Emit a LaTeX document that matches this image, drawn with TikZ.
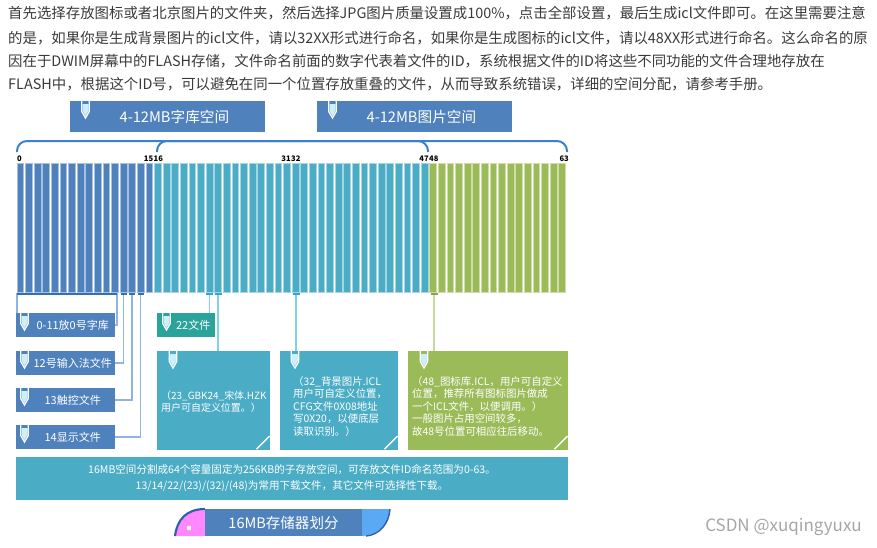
\documentclass[tikz,border=0pt]{standalone}
\usepackage{fontspec}
\setmainfont{Noto Sans CJK SC}
\usepackage{xcolor}
\usepackage{tikz}
\usetikzlibrary{positioning}

\definecolor{fontblue}{HTML}{4F81BD}
\definecolor{picteal}{HTML}{4BACC6}
\definecolor{icongreen}{HTML}{9BBB59}
\definecolor{filegreen}{HTML}{2AA39A}
\definecolor{bracketblue}{HTML}{3A7FD0}
\definecolor{tabpink}{HTML}{FF88FF}
\definecolor{tabsky}{HTML}{5AA9F5}
\definecolor{tabdark}{HTML}{2F5FA8}
\definecolor{bodygray}{HTML}{3A3A3A}
\definecolor{markblue}{HTML}{2F6EBA}
\definecolor{linkblue}{HTML}{8EB4E3}
\definecolor{markteal}{HTML}{31A8C8}
\definecolor{linkteal}{HTML}{7FD3E8}
\definecolor{markgreen}{HTML}{86A646}
\definecolor{linkgreen}{HTML}{C5D9A0}

\tikzset{
  vicon/.pic={
    \fill[cyan!20!white] (-3,3) -- (-3,10) -- (0,15) -- (3,10) -- (3,3) -- cycle;
    \draw[white, line width=1.1pt, line join=miter] (-3.8,0) -- (-3.8,10.5) -- (0,17) -- (3.8,10.5) -- (3.8,0);
  }
}

\begin{document}
\begin{tikzpicture}[x=0.03cm, y=-0.03cm,
  bodytext/.style={anchor=west, inner sep=0pt, text=bodygray, font=\fontsize{12.3}{14}\selectfont},
  hdrbox/.style={fill=fontblue, text=white, anchor=north west, inner sep=0pt,
    minimum width=5.85cm, minimum height=0.93cm, font=\fontsize{12.5}{14}\selectfont,
    execute at begin node=\hspace{0.4cm}},
  lblbox/.style={fill=fontblue, text=white, anchor=north west, inner sep=0pt,
    minimum width=2.97cm, minimum height=0.71cm, font=\fontsize{9.4}{11}\selectfont,
    execute at begin node=\hspace{0.42cm}},
  bigbox/.style={anchor=north west, inner sep=0pt, minimum height=2.96cm},
  boxtext/.style={anchor=north west, inner sep=0pt, align=left, text=white,
    font=\fontsize{8.9}{10.7}\selectfont},
  scalenum/.style={inner sep=0pt, font=\fontsize{6.5}{7}\selectfont\bfseries},
  bracket/.style={bracketblue, line width=1.7pt, rounded corners=0.3cm},
]
\useasboundingbox (0,0) rectangle (877,547);

% ---------------- paragraph ----------------
\node[bodytext] (line1) at (8,13) {首先选择存放图标或者北京图片的文件夹，然后选择JPG图片质量设置成100\%，点击全部设置，最后生成icl文件即可。在这里需要注意};
\node[bodytext] (line2) at (8,38) {的是，如果你是生成背景图片的icl文件，请以32XX形式进行命名，如果你是生成图标的icl文件，请以48XX形式进行命名。这么命名的原};
\node[bodytext] (line3) at (8,61) {因在于DWIM屏幕中的FLASH存储，文件命名前面的数字代表着文件的ID，系统根据文件的ID将这些不同功能的文件合理地存放在};
\node[bodytext] (line4) at (8,84) {FLASH中，根据这个ID号，可以避免在同一个位置存放重叠的文件，从而导致系统错误，详细的空间分配，请参考手册。};

% ---------------- headers ----------------
\node[hdrbox] (hdrfont) at (70,101) {4-12MB字库空间};
\node[hdrbox] (hdrpic) at (317,101) {4-12MB图片空间};
\pic at (85.5,101) {vicon};
\pic at (332.5,101) {vicon};

\draw[bracket] (17,152) -- (17,141) -- (428,141) -- (428,152);
\draw[bracket] (157,152) -- (157,141) -- (567,141) -- (567,152);

% ---------------- 64 blocks ----------------
\foreach \i in {0,...,15}{
  \draw[fill=fontblue, draw=fontblue!50!white, line width=0.5pt] (16.8+8.6*\i,163) rectangle (23.6+8.6*\i,292);
}
\foreach \i in {16,...,47}{
  \draw[fill=picteal, draw=picteal!50!white, line width=0.5pt] (16.8+8.6*\i,163) rectangle (23.6+8.6*\i,292);
}
\foreach \i in {48,...,63}{
  \draw[fill=icongreen, draw=icongreen!50!white, line width=0.5pt] (16.8+8.6*\i,163) rectangle (23.6+8.6*\i,292);
}

\node[scalenum, anchor=south west] (n0) at (17,162) {0};
\node[scalenum, anchor=south east] (n15) at (153.5,162) {15};
\node[scalenum, anchor=south west] (n16) at (153.5,162) {16};
\node[scalenum, anchor=south east] (n31) at (291,162) {31};
\node[scalenum, anchor=south west] (n32) at (291,162) {32};
\node[scalenum, anchor=south east] (n47) at (429,162) {47};
\node[scalenum, anchor=south west] (n48) at (429,162) {48};
\node[scalenum, anchor=south east] (n63) at (569,162) {63};

% ---------------- tick points ----------------
\coordinate (t0) at (17,294);
\coordinate (t11) at (117,294);
\coordinate (t12) at (123.5,294);
\coordinate (t13) at (132,294);
\coordinate (t14) at (140.7,294);
\coordinate (t22) at (209.5,294);
\coordinate (t23) at (218,294);
\coordinate (t32) at (296,294);
\coordinate (t48) at (434,294);

% ---------------- file boxes ----------------
\node[lblbox] (lbl0) at (16,313) {0-11放0号字库};
\node[lblbox] (lbl12) at (16,351) {12号输入法文件};
\node[lblbox] (lbl13) at (16,388) {13触控文件};
\node[lblbox] (lbl14) at (16,425) {14显示文件};
\node[lblbox, fill=filegreen, minimum width=1.74cm] (lbl22) at (157,313) {22文件};
\foreach \y in {313,351,388,425}{
  \pic at (24.5,\y) {vicon};
}
\pic at (166.5,313) {vicon};

\node[bigbox, fill=picteal, minimum width=3.39cm] (box23) at (157,351) {};
\node[bigbox, fill=picteal, minimum width=3.54cm] (box32) at (280,351) {};
\node[bigbox, fill=icongreen, minimum width=4.8cm] (box48) at (408,351) {};
\pic at (173,351) {vicon};
\pic at (295,351) {vicon};
\pic at (424,351) {vicon};
\foreach \b in {box23,box32,box48}{
  \draw[white, line width=1.2pt] ([shift={(-14,-1)}]\b.south east) -- ([shift={(-1,-14)}]\b.south east);
}

\node[boxtext, font=\fontsize{8.5}{10.3}\selectfont] (txt23) at (161,391) {（23\_GBK24\_宋体.HZK\\用户可自定义位置。）};
\node[boxtext] (txt32) at (293,376) {（32\_背景图片.ICL\\用户可自定义位置，\\CFG文件0X08地址\\写0X20，以便底层\\读取识别。）};
\node[boxtext] (txt48) at (412,376) {（48\_图标库.ICL，用户可自定义\\位置，推荐所有图标图片做成\\一个ICL文件，以便调用。）\\一般图片占用空间较多，\\故48号位置可相应往后移动。};

% ---------------- connectors ----------------
\draw[linkblue, line width=1.1pt] ([xshift=0.03cm]lbl0.north west) |- (t11) |- (lbl0.east);
\draw[markblue, line width=1.6pt] (t0) -- (t11);
\draw[linkblue, line width=1.1pt] (t12) |- (lbl12.east);
\draw[linkblue, line width=1.1pt] (t13) |- (lbl13.east);
\draw[linkblue, line width=1.1pt] (t14) |- (lbl14.east);
\foreach \t in {t12,t13,t14}{
  \draw[markblue, line width=1.6pt] (\t) ++(-3,0) -- ++(6,0);
}
\draw[linkteal, line width=1.1pt] (t22) -- (t22 |- lbl22.north);
\draw[linkteal, line width=1.1pt] (t23) -- (t23 |- box23.north);
\draw[linkteal, line width=1.1pt] (t32) -- (t32 |- box32.north);
\foreach \t in {t22,t23,t32}{
  \draw[markteal, line width=1.6pt] (\t) ++(-3.5,0) -- ++(7,0);
}
\draw[linkgreen, line width=1.1pt] (t48) -- (t48 |- box48.north);
\draw[markgreen, line width=1.6pt] (t48) ++(-3.5,0) -- ++(7,0);

% ---------------- note and tab ----------------
\node[fill=picteal, text=white, inner sep=0pt, minimum width=16.56cm, minimum height=1.29cm,
  align=center, font=\fontsize{9}{13.7}\selectfont] (note) at (292,478.5)
  {16MB空间分割成64个容量固定为256KB的子存放空间，可存放文件ID命名范围为0-63。\\13/14/22/(23)/(32)/(48)为常用下载文件，其它文件可选择性下载。};

\fill[tabpink] (175,536) .. controls (177,520) and (186,509) .. (205,509) -- (205,536) -- cycle;
\draw[tabdark, line width=1.8pt] (175,536) .. controls (177,520) and (186,509) .. (205,509);
\fill[white] (189,528) circle (2.3);
\fill[tabsky] (362,509) -- (390,509) .. controls (389,524) and (379,535) .. (362,536) -- cycle;
\draw[tabdark, line width=1.2pt] (390,509) .. controls (389,524) and (379,535) .. (366,536);
\node[fill=fontblue, text=white, inner sep=0pt, minimum width=4.71cm, minimum height=0.81cm,
  font=\fontsize{12.4}{14}\selectfont] (tab) at (283.5,522.5) {16MB存储器划分};

\node[text=gray!70, anchor=east, inner sep=0pt, font=\fontsize{14.5}{16}\selectfont] (mark) at (862,527) {CSDN @xuqingyuxu};

\end{tikzpicture}
\end{document}
